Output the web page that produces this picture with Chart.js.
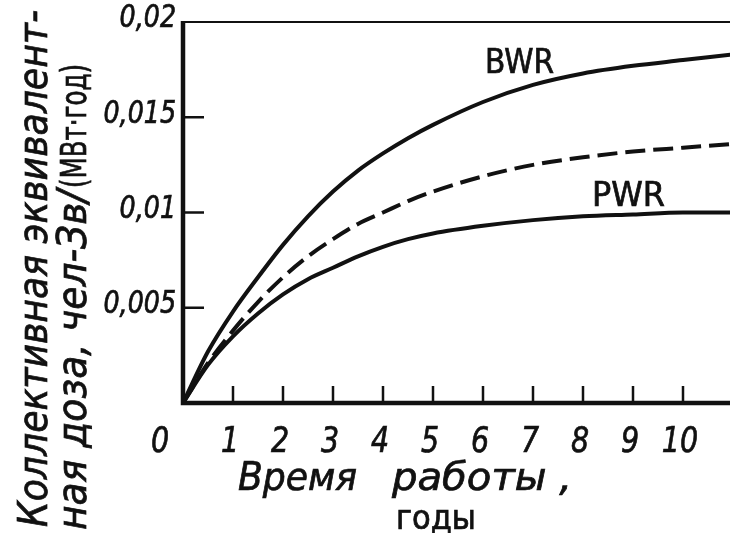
<!DOCTYPE html>
<html>
<head>
<meta charset="utf-8">
<script src="https://cdn.jsdelivr.net/npm/chart.js@4.4.1/dist/chart.umd.min.js"></script>
<style>
  html, body { margin: 0; padding: 0; background: #fff; }
  #wrap { width: 730px; height: 533px; }
</style>
</head>
<body>
<div id="wrap"><canvas id="doseChart" width="730" height="533"></canvas></div>
<script>
// years of operation
const years = [0, 0.5, 1, 1.5, 2, 2.5, 3, 3.5, 4, 4.5, 5, 6, 7, 8, 9, 10, 11];
// collective dose, man-Sv per MW(e)-year
const bwrDose = [0, 0.0027, 0.0048, 0.0066, 0.0083, 0.0098, 0.0111, 0.0122, 0.0131, 0.0139, 0.0146, 0.0158, 0.0167, 0.0173, 0.0177, 0.0180, 0.0183];
const avgDose = [0, 0.0021, 0.0038, 0.0053, 0.0066, 0.0077, 0.0086, 0.0094, 0.0100, 0.0106, 0.0111, 0.0119, 0.0125, 0.0129, 0.0132, 0.0134, 0.0136];
const pwrDose = [0, 0.0020, 0.0035, 0.0047, 0.0057, 0.0065, 0.0071, 0.0077, 0.0082, 0.0086, 0.0089, 0.0093, 0.0096, 0.0098, 0.0099, 0.0100, 0.0100];

const xTicks = [0, 1, 2, 3, 4, 5, 6, 7, 8, 9, 10];
const yTicks = [0.005, 0.01, 0.015, 0.02];

const yTitle1 = "Коллективная эквивалент-";
const yTitle2a = "ная доза, чел-Зв/";
const yTitle2b = "(МВт·год)";
const xTitleA = "Время";
const xTitleB = "работы ,";
const xUnit = "годы";

const FONT = '"DejaVu Sans Condensed", "DejaVu Sans", sans-serif';
const INK = "#111";
const SQUEEZE = 0.88;

function toPoints(values) {
  return years.map((t, i) => ({ x: t, y: values[i] }));
}

// fill plus a thin outline so the lettering looks as heavy as the print
function inkText(ctx, text) {
  ctx.fillText(text, 0, 0);
  ctx.lineWidth = 0.7;
  ctx.strokeText(text, 0, 0);
}

// draw text squeezed/stretched to a given length
function fitText(ctx, text, x, y, len, font, angle) {
  ctx.save();
  ctx.font = font;
  const w = ctx.measureText(text).width;
  ctx.translate(x, y);
  if (angle) ctx.rotate(angle);
  ctx.scale(len / w, 1);
  inkText(ctx, text);
  ctx.restore();
}

function narrowText(ctx, text, x, y) {
  ctx.save();
  ctx.translate(x, y);
  ctx.scale(SQUEEZE, 1);
  inkText(ctx, text);
  ctx.restore();
}

const framePlugin = {
  id: "frame",
  afterDraw(chart) {
    const { ctx, chartArea: a, scales } = chart;
    const x = scales.x;
    const y = scales.y;
    ctx.save();
    ctx.strokeStyle = INK;
    ctx.fillStyle = INK;

    // axes
    ctx.lineWidth = 4.5;
    ctx.beginPath();
    ctx.moveTo(a.left, a.top - 1);
    ctx.lineTo(a.left, a.bottom);
    ctx.lineTo(a.right, a.bottom);
    ctx.stroke();
    ctx.lineWidth = 2;
    ctx.beginPath();
    ctx.moveTo(a.left, a.top);
    ctx.lineTo(a.right, a.top);
    ctx.stroke();

    // ticks pointing inwards
    ctx.lineWidth = 2.5;
    ctx.beginPath();
    xTicks.forEach((v) => {
      if (v === 0) return;
      const px = x.getPixelForValue(v);
      ctx.moveTo(px, a.bottom);
      ctx.lineTo(px, a.bottom - 17);
    });
    yTicks.forEach((v) => {
      if (v === 0.02) return;
      const py = y.getPixelForValue(v);
      ctx.moveTo(a.left, py);
      ctx.lineTo(a.left + 21, py);
    });
    ctx.stroke();

    // tick labels
    ctx.textBaseline = "middle";
    ctx.textAlign = "right";
    ctx.font = "italic 32px " + FONT;
    yTicks.forEach((v) => {
      const py = y.getPixelForValue(v);
      narrowText(ctx, String(v).replace(".", ","), a.left - 7, py - 3);
    });
    ctx.textBaseline = "alphabetic";
    ctx.textAlign = "center";
    ctx.font = "italic 36px " + FONT;
    xTicks.forEach((v) => {
      const px = x.getPixelForValue(v);
      narrowText(ctx, String(v), v === 0 ? px - 23 : px - 3, 452);
    });

    // curve labels
    ctx.textAlign = "left";
    fitText(ctx, "BWR", 485, 73, 69, "34px " + FONT);
    fitText(ctx, "PWR", 592, 206, 73, "34px " + FONT);

    // x title
    fitText(ctx, xTitleA, 238, 490, 119, "italic 39px " + FONT);
    fitText(ctx, xTitleB, 392, 490, 180, "italic 39px " + FONT);
    fitText(ctx, xUnit, 396, 529, 80, "33px " + FONT);

    // y title, rotated, baseline on the right of the glyphs
    fitText(ctx, yTitle1, 47, 527, 517, "italic 40px " + FONT, -Math.PI / 2);
    fitText(ctx, yTitle2a, 86, 530, 340, "italic 40px " + FONT, -Math.PI / 2);
    fitText(ctx, yTitle2b, 86, 188, 124, "36px " + FONT, -Math.PI / 2);

    ctx.restore();
  },
};

const lineStyle = {
  borderColor: INK,
  borderWidth: 4,
  pointRadius: 0,
  fill: false,
  cubicInterpolationMode: "monotone",
};

new Chart(document.getElementById("doseChart"), {
  type: "line",
  data: {
    datasets: [
      { label: "BWR", data: toPoints(bwrDose), ...lineStyle },
      { label: "Среднее", data: toPoints(avgDose), ...lineStyle, borderDash: [20, 8] },
      { label: "PWR", data: toPoints(pwrDose), ...lineStyle },
    ],
  },
  options: {
    responsive: false,
    animation: false,
    layout: { padding: { top: 22, right: 0, left: 0, bottom: 0 } },
    plugins: {
      legend: { display: false },
      tooltip: { enabled: false },
    },
    scales: {
      x: {
        type: "linear",
        min: 0,
        max: 10.94,
        grid: { display: false },
        border: { display: false },
        ticks: { display: false },
        afterFit: (s) => {
          s.height = 130;
        },
      },
      y: {
        min: 0,
        max: 0.02,
        grid: { display: false },
        border: { display: false },
        ticks: { display: false },
        afterFit: (s) => {
          s.width = 183;
        },
      },
    },
  },
  plugins: [framePlugin],
});
</script>
</body>
</html>
